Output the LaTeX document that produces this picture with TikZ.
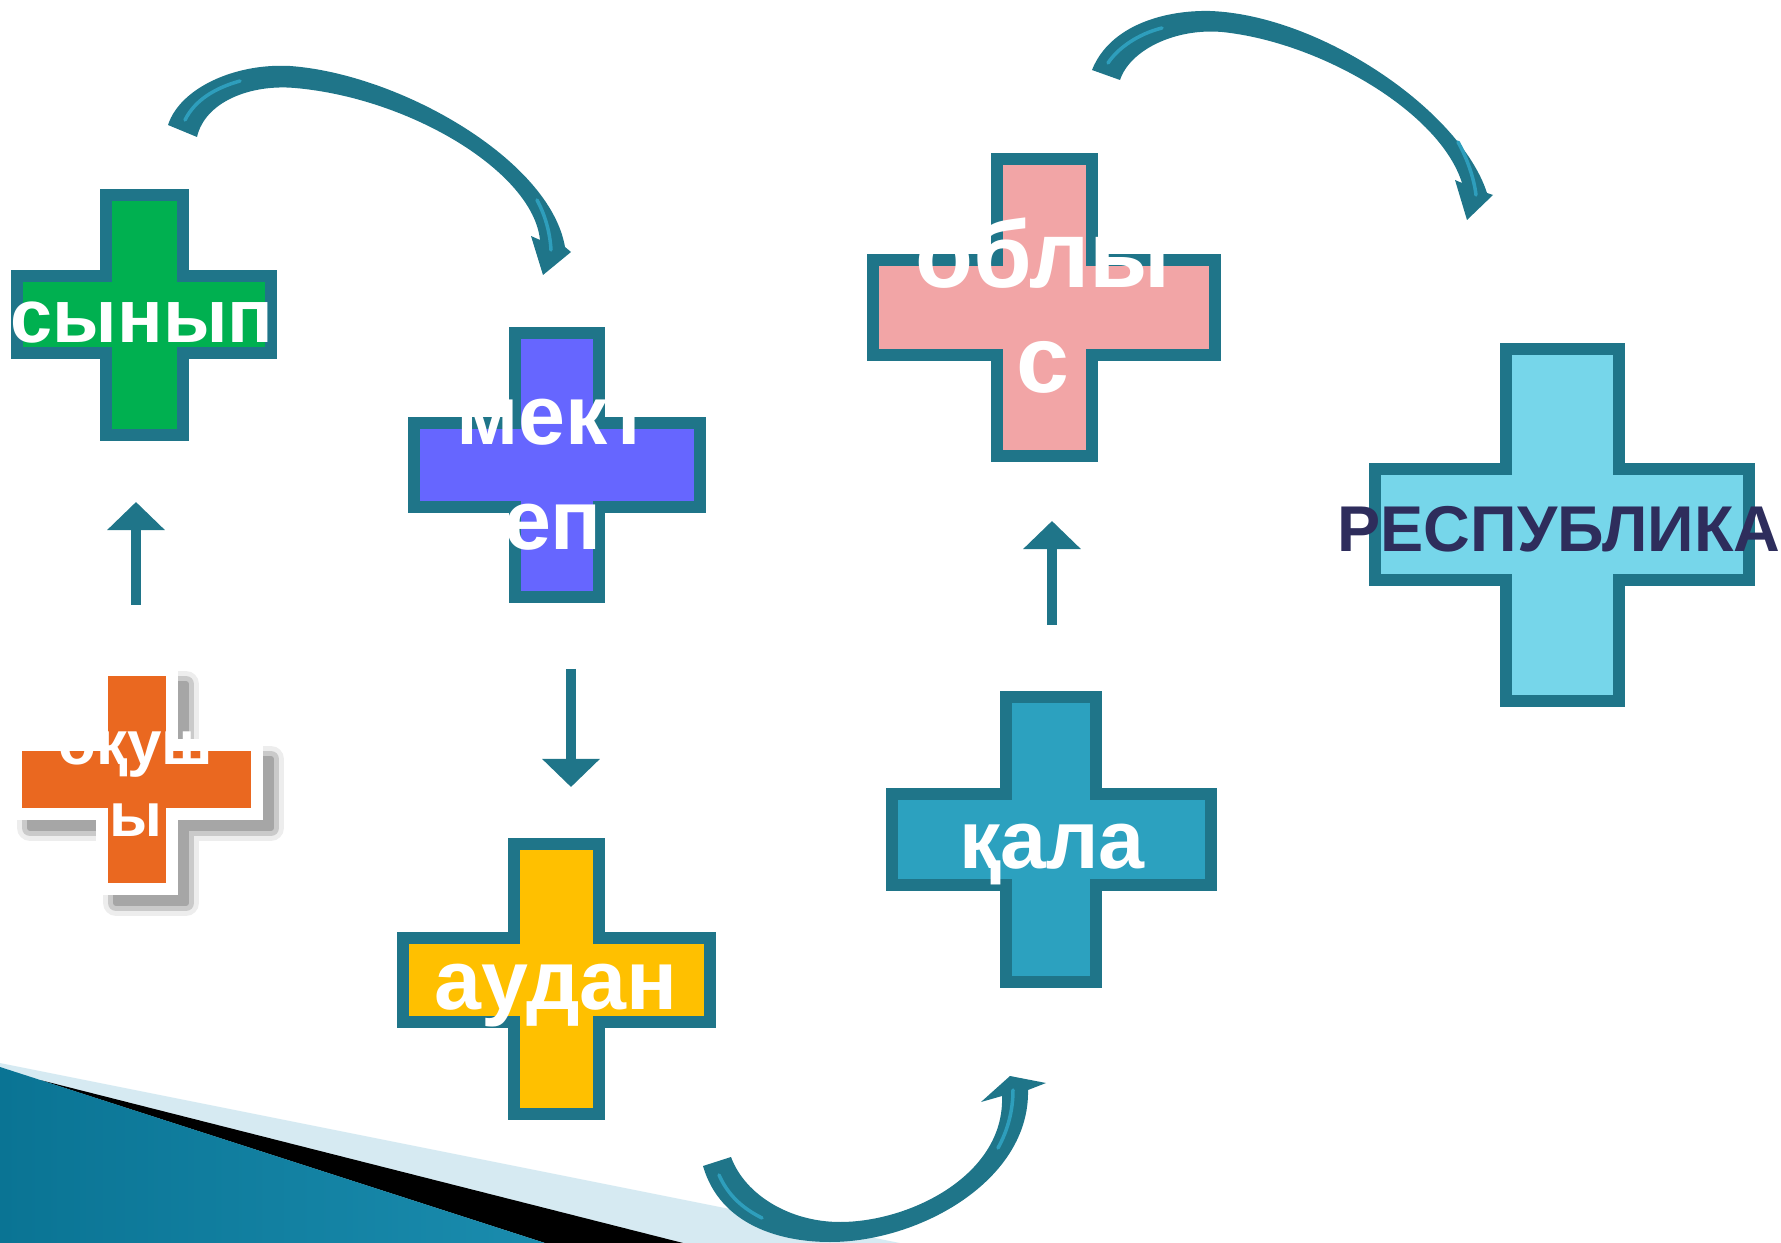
\documentclass[tikz,border=0pt]{standalone}
\usepackage{fontspec}
\setmainfont{Liberation Sans}
\usetikzlibrary{arrows.meta}
\definecolor{teal1}{RGB}{31,117,137}
\definecolor{hilite}{RGB}{46,158,188}
\definecolor{cgreen}{HTML}{00B050}
\definecolor{cblue}{HTML}{6666FF}
\definecolor{corange}{HTML}{EA6820}
\definecolor{cyellow}{HTML}{FFC000}
\definecolor{cpink}{HTML}{F2A5A6}
\definecolor{ccity}{HTML}{2CA1BF}
\definecolor{crep}{HTML}{76D6EA}
\definecolor{navy}{HTML}{2E2D5C}
\definecolor{lband}{HTML}{D6EAF2}
\definecolor{swdark}{HTML}{0A7494}
\definecolor{swlight}{HTML}{5ABFDC}
\definecolor{swmid}{HTML}{1A8CAE}
% cross: #1 fill, #2 vx1, #3 vx2, #4 vy1, #5 vy2, #6 hx1, #7 hx2, #8 hy1, #9 hy2
\newcommand\kross[9]{\filldraw[crossline, fill=#1] (#2,#4) -- (#3,#4) -- (#3,#8) -- (#7,#8) -- (#7,#9) -- (#3,#9) -- (#3,#5) -- (#2,#5) -- (#2,#9) -- (#6,#9) -- (#6,#8) -- (#2,#8) -- cycle;}
\newcommand\krosspath[8]{(#1,#3) -- (#2,#3) -- (#2,#7) -- (#6,#7) -- (#6,#8) -- (#2,#8) -- (#2,#4) -- (#1,#4) -- (#1,#8) -- (#5,#8) -- (#5,#7) -- (#1,#7) -- cycle}
\begin{document}
\begin{tikzpicture}[x=0.01cm,y=-0.01cm,
  crossline/.style={draw=teal1, line width=0.12cm, line join=miter},
  lbl/.style={text=white, font=\bfseries\fontsize{24}{30}\selectfont, align=center, inner sep=0pt, anchor=base},
  sarrow/.style={draw=teal1, line width=0.1cm, -{Triangle[width=0.56cm,length=0.28cm]}},
  carrow/.style={fill=teal1},
  hl/.style={draw=hilite, line width=0.035cm, line cap=round}]
\useasboundingbox (0,0) rectangle (1781,1243);

% bottom-left swoosh
\fill[lband] (0,1063) -- (900,1243) -- (0,1243) -- cycle;
\fill[black] (40,1080) -- (683,1243) -- (545,1243) -- cycle;
\shade[left color=swdark, middle color=swlight, right color=swmid] (0,1067) -- (545,1243) -- (0,1243) -- cycle;

% crosses
\kross{cgreen}{106}{183}{195}{435}{17}{271}{276}{353}
\kross{cblue}{515}{599}{333}{597}{414}{700}{423}{507}
\kross{cyellow}{514}{599}{844}{1114}{403}{710}{938}{1022}
\kross{cpink}{997}{1092}{159}{456}{873}{1215}{260}{355}
\kross{ccity}{1006}{1096}{697}{982}{892}{1211}{794}{885}
\kross{crep}{1506}{1619}{349}{701}{1375}{1749}{469}{580}

% orange cross with white border and soft shadow
\begin{scope}[xshift=0.14cm, yshift=-0.14cm]
  \filldraw[black!35, opacity=0.2, line width=0.26cm, line join=round] \krosspath{102}{172}{670}{889}{16}{257}{745}{814};
  \filldraw[black!35, opacity=0.5, line width=0.16cm, line join=round] \krosspath{102}{172}{670}{889}{16}{257}{745}{814};
  \filldraw[black!35, line width=0.06cm, line join=round] \krosspath{102}{172}{670}{889}{16}{257}{745}{814};
\end{scope}
\filldraw[fill=corange, draw=white, line width=0.12cm, line join=miter] \krosspath{102}{172}{670}{889}{16}{257}{745}{814};

% labels (base anchor = baseline of the last line)
\node[lbl, font=\bfseries\fontsize{21.5}{26}\selectfont] (n1) at (142,343) {сынып};
\node[lbl] (n2) at (553,550) {мект\\еп};
\node[lbl, font=\bfseries\fontsize{17.6}{20.5}\selectfont] (n0) at (136,837) {оқуш\\ы};
\node[lbl] (n3) at (556,1009) {аудан};
\node[lbl, font=\bfseries\fontsize{27}{30}\selectfont] (n5) at (1043,393) {облы\\с};
\node[lbl, font=\bfseries\fontsize{23.5}{28}\selectfont] (n4) at (1052,868) {қала};
\node[lbl, text=navy, font=\bfseries\fontsize{18.4}{22}\selectfont] (n6) at (1559,552) {РЕСПУБЛИКА};

% straight arrows
\coordinate (u1s) at (136,605); \coordinate (u1e) at (136,502);
\coordinate (d1s) at (571,669); \coordinate (d1e) at (571,787);
\coordinate (u2s) at (1052,625); \coordinate (u2e) at (1052,521);
\draw[sarrow] (u1s) -- (u1e);
\draw[sarrow] (d1s) -- (d1e);
\draw[sarrow] (u2s) -- (u2e);

% curved arrow 1 (сынып -> мектеп)
\fill[carrow] (168,125) .. controls (180,88) and (235,63) .. (290,66)
  .. controls (400,74) and (550,160) .. (565,247)
  -- (571,252) -- (543,275) -- (531,236) -- (540,240)
  .. controls (533,172) and (410,98) .. (295,88)
  .. controls (250,84) and (205,102) .. (197,137) -- cycle;
\draw[hl] (185,120) .. controls (195,100) and (215,88) .. (240,81);
\draw[hl] (537,200) .. controls (545,215) and (550,232) .. (551,250);

% curved arrow 2 (облыс -> республика)
\fill[carrow] (1092,70) .. controls (1110,25) and (1165,10) .. (1210,11)
  .. controls (1320,15) and (1460,110) .. (1487,193)
  -- (1493,195) -- (1467,220) -- (1455,180) -- (1462,183)
  .. controls (1440,112) and (1320,42) .. (1222,32)
  .. controls (1175,28) and (1130,50) .. (1120,80) -- cycle;
\draw[hl] (1108,63) .. controls (1118,48) and (1138,34) .. (1162,28);
\draw[hl] (1458,142) .. controls (1467,158) and (1474,178) .. (1476,195);

% curved arrow 3 (аудан -> қала)
\fill[carrow] (703,1166) .. controls (720,1225) and (780,1242) .. (830,1242)
  .. controls (920,1242) and (1030,1180) .. (1028,1090)
  -- (1046,1083) -- (1010,1076) -- (981,1102) -- (1002,1096)
  .. controls (1005,1175) and (910,1222) .. (840,1222)
  .. controls (790,1222) and (745,1195) .. (731,1157) -- cycle;
\draw[hl] (719,1175) .. controls (728,1195) and (742,1208) .. (762,1218);
\draw[hl] (1013,1090) .. controls (1013,1110) and (1008,1130) .. (998,1148);
\end{tikzpicture}
\end{document}
